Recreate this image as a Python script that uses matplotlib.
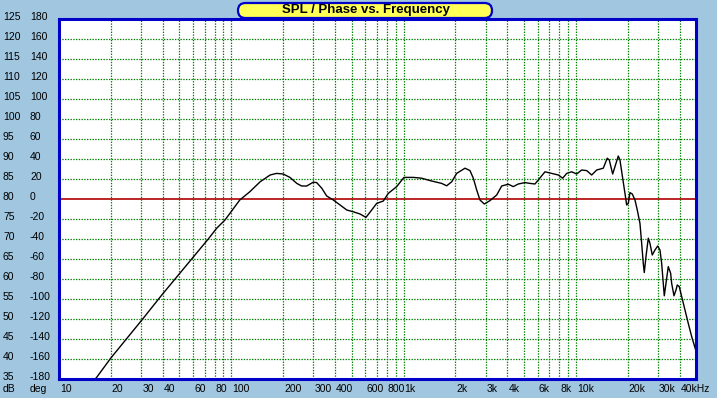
import numpy as np
import matplotlib.pyplot as plt
from matplotlib.patches import FancyBboxPatch

# SPL curve (Hz, dB)
freq = [15, 16.6, 20, 30.6, 39.5, 73.5, 82.3, 91.9, 100.5, 112,
        128, 147, 168, 183, 200, 219, 240, 256, 274, 299,
        313, 335, 358, 391, 428, 468, 511, 559, 605, 653,
        698, 763, 815, 912, 1005, 1138, 1274, 1423, 1556, 1664,
        1779, 1902, 2033, 2272, 2429, 2539, 2657, 2776, 2940, 3173,
        3471, 3711, 4053, 4331, 4631, 5064, 5414, 5789, 6050, 6617,
        7235, 7904, 8382, 8844, 9454, 10106, 10805, 11555, 12353, 13206,
        14421, 15213, 15624, 16354, 17625, 18026, 18690, 19275, 19717, 20143,
        20606, 21248, 22030, 22720, 23550, 24093, 24614, 24945, 25521, 26316,
        26922, 27760, 28780, 29839, 30768, 31477, 32159, 32592, 33343, 34380,
        35499, 35977, 37104, 38110, 38773, 39823, 41128, 42977, 44917, 47005,
        49583, 51000]
spl = [33.3, 35.5, 40.25, 50.0, 56.0, 70.0, 72.7, 74.75, 77.0, 79.75,
       81.8, 84.3, 86.0, 86.4, 86.25, 85.4, 83.9, 83.25, 83.25, 84.2,
       84.1, 82.7, 80.75, 79.75, 78.5, 77.25, 76.8, 76.25, 75.4, 77.25,
       78.9, 79.5, 81.4, 83.1, 85.4, 85.4, 85.2, 84.6, 84.2, 83.9,
       83.3, 84.3, 86.4, 87.7, 87.1, 85.2, 82.25, 79.75, 78.75, 79.6,
       81.0, 83.25, 83.7, 83.1, 83.75, 84.1, 83.9, 83.75, 84.75, 86.8,
       86.4, 86.0, 85.2, 86.4, 86.8, 86.25, 87.25, 87.1, 86.0, 87.25,
       87.7, 90.2, 89.75, 86.25, 90.75, 89.75, 85.2, 81.4, 78.5, 78.9,
       81.6, 81.25, 79.75, 77.25, 73.9, 68.9, 63.9, 61.6, 65.6, 70.2,
       68.9, 66.0, 67.25, 68.25, 67.25, 63.9, 58.9, 55.8, 58.9, 63.1,
       61.4, 58.9, 55.8, 57.25, 58.5, 58.1, 55.6, 52.25, 48.9, 45.6,
       42.25, 41.0]

db_ticks = [125, 120, 115, 110, 105, 100, 95, 90, 85, 80, 75, 70, 65, 60, 55, 50, 45, 40, 35]
deg_ticks = [180, 160, 140, 120, 100, 80, 60, 40, 20, 0, -20, -40, -60, -80, -100, -120, -140, -160, -180]
freq_ticks = [10, 20, 30, 40, 60, 80, 100, 200, 300, 400, 600, 800,
              1000, 2000, 3000, 4000, 6000, 8000, 10000, 20000, 30000, 40000]
freq_labels = ['10', '20', '30', '40', '60', '80', '100', '200', '300', '400', '600', '800',
               '1k', '2k', '3k', '4k', '6k', '8k', '10k', '20k', '30k', '40kHz']

W, H = 717, 398
bg = '#A0C6E0'
blue = '#0000C8'
plt.rcParams['font.family'] = ['Liberation Sans', 'DejaVu Sans']

fig = plt.figure(figsize=(W / 100, H / 100), dpi=100, facecolor=bg)
x0, x1, y0, y1 = 59, 696.3, 19, 379
ax = fig.add_axes([x0 / W, 1 - y1 / H, (x1 - x0) / W, (y1 - y0) / H])
ax.set_facecolor('white')
ax.set_xscale('log')
ax.set_xlim(10, 50000)
ax.set_ylim(35, 125)

# grid: every 1..9 per decade, every 5 dB, dotted green
grid_kw = dict(color='#008000', lw=0.9, ls=(0, (1.1, 1.1)), zorder=1, snap=True)
vgrid = [m * 10 ** d for d in range(1, 5) for m in range(1, 10) if m * 10 ** d < 50000]
for v in vgrid[1:]:
    ax.axvline(v, **grid_kw)
for h in db_ticks[1:-1]:
    if h != 80:
        ax.axhline(h, **grid_kw)
# 0 deg reference line
ax.axhline(80, color='#B00000', lw=1.2, zorder=2, snap=True)

ax.plot(freq, spl, color='black', lw=1.0, zorder=3)

ax.set_xticks([])
ax.set_yticks([])
ax.minorticks_off()
for s in ax.spines.values():
    s.set_color(blue)
    s.set_linewidth(2.2)
    s.set_zorder(5)

# left labels
for db, deg in zip(db_ticks, deg_ticks):
    yp = 1 - (y0 + (125 - db) * 4 - 2) / H
    fig.text(3 / W, yp, str(db), ha='left', va='center', fontsize=7.5)
    fig.text(30 / W, yp, str(deg), ha='left', va='center', fontsize=7.5)
fig.text(3 / W, 1 - 389.5 / H, 'dB', ha='left', va='center', fontsize=7.5)
fig.text(30 / W, 1 - 389.5 / H, 'deg', ha='left', va='center', fontsize=7.5)

# frequency labels
for f, lab in zip(freq_ticks, freq_labels):
    xp = x0 + np.log10(f / 10) * (x1 - x0) / np.log10(5000) + 1
    fig.text(xp / W, 1 - 389.5 / H, lab, ha='left', va='center', fontsize=7.5)

# title box, drawn in inches (1 in = 100 px)
box = FancyBboxPatch((2.38, (H - 18) / 100), 2.54, 0.15,
                     boxstyle='round,pad=0,rounding_size=0.075',
                     transform=fig.dpi_scale_trans, facecolor='#FFFF55',
                     edgecolor=blue, lw=1.6, zorder=10)
fig.patches.append(box)
fig.text(366 / W, 1 - 10 / H, 'SPL / Phase vs. Frequency', ha='center', va='center',
         fontsize=9.5, fontweight='bold', zorder=11)

fig.savefig('out.png', dpi=100, facecolor=bg)
